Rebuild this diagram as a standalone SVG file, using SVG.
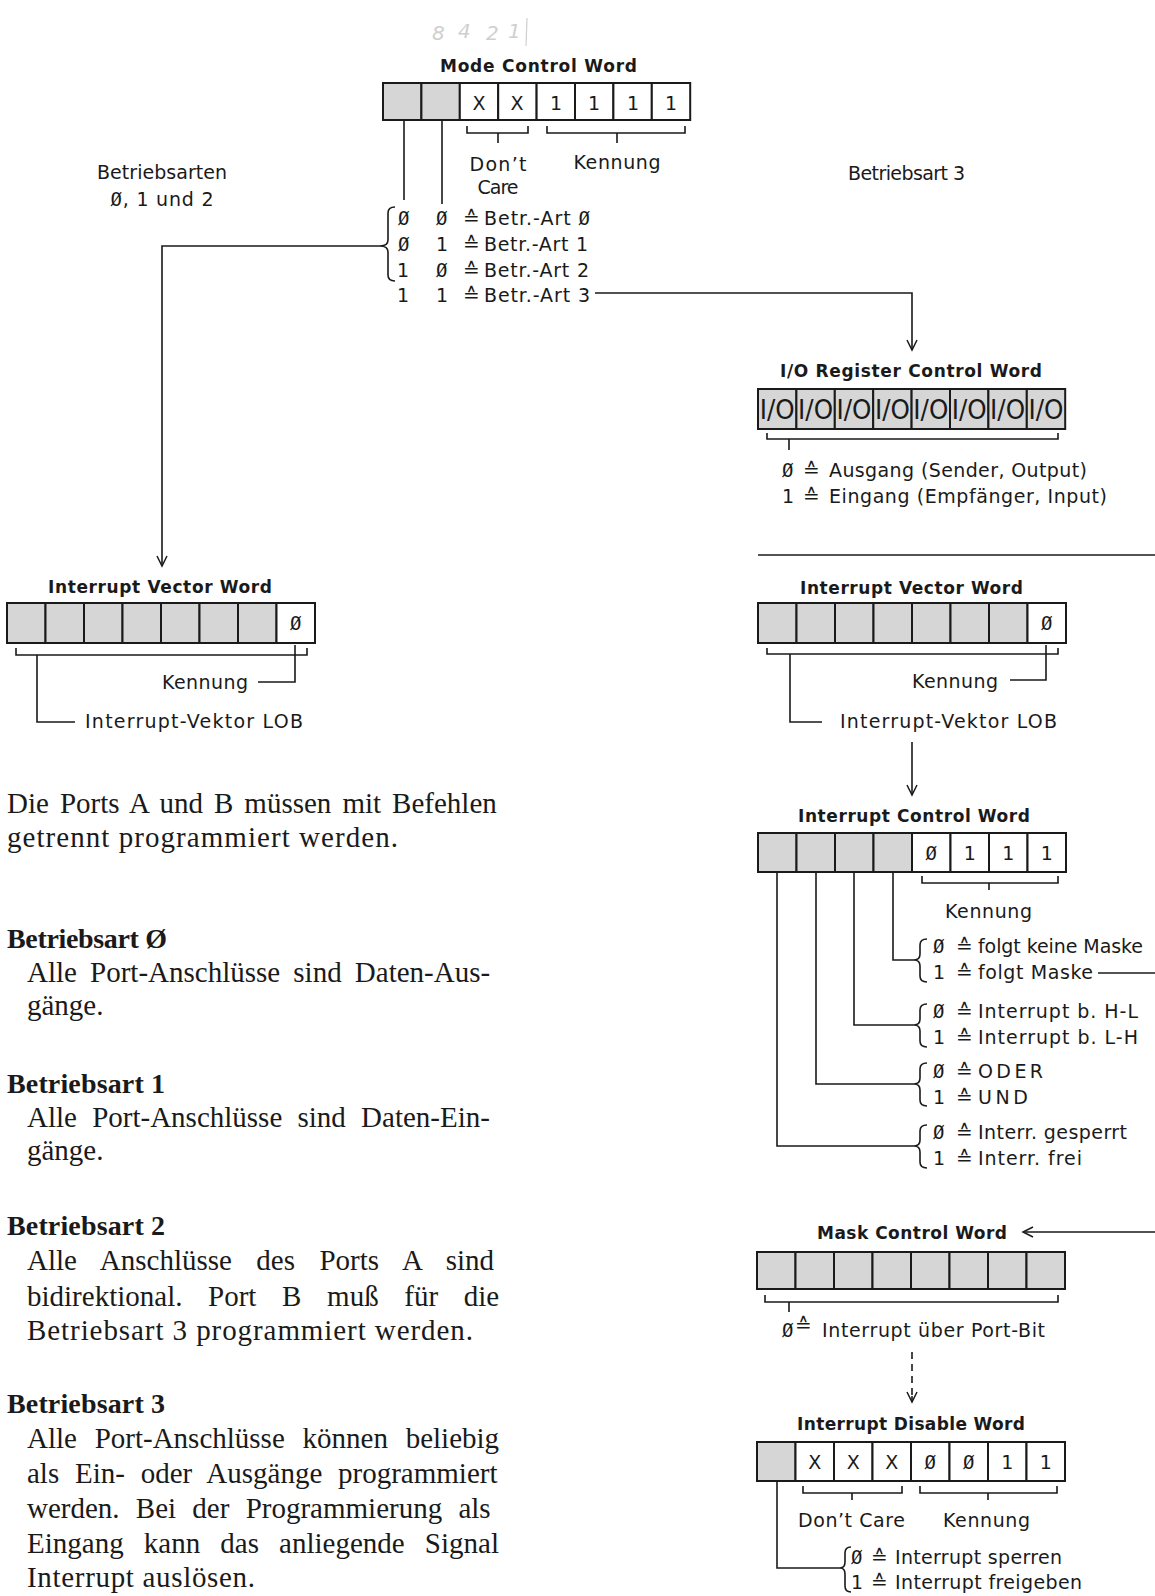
<svg xmlns="http://www.w3.org/2000/svg" width="1155" height="1596" viewBox="0 0 1155 1596">
<style>
.ln{stroke:#1a1a1a;stroke-width:1.6;fill:none}
.dash{stroke-dasharray:7 5}
.bx{stroke:#1a1a1a;stroke-width:2}
.g{fill:#d6d6d6}
.w{fill:#fff}
.t{font-family:"DejaVu Sans",sans-serif;font-size:19px;fill:#1a1a1a}
.tt{font-family:"DejaVu Sans",sans-serif;font-size:17px;font-weight:bold;fill:#1a1a1a}
.eq{font-family:"DejaVu Sans",sans-serif;font-size:20px;fill:#1a1a1a}
.z{font-family:"DejaVu Sans Mono",monospace}
.c{text-anchor:middle}
.io{font-family:"DejaVu Sans",sans-serif;font-size:26px;fill:#1a1a1a;text-anchor:middle}
.s{font-family:"Liberation Serif",serif;font-size:29px;fill:#1a1a1a}
.sb{font-family:"Liberation Serif",serif;font-size:28px;font-weight:bold;fill:#1a1a1a}
.hw{font-family:"DejaVu Sans",sans-serif;font-size:20px;font-style:italic;fill:#cfcfcf}
</style>
<defs>
<marker id="arr" viewBox="-12 -7 14 14" refX="0" refY="0" markerWidth="14" markerHeight="14" markerUnits="userSpaceOnUse" orient="auto">
<path d="M-10,-5 L0,0 L-10,5" fill="none" stroke="#1a1a1a" stroke-width="1.5"/>
</marker>
</defs>
<rect x="0" y="0" width="1155" height="1596" fill="#fff"/>

<g id="handwriting">
<text class="hw" x="432" y="40">8</text>
<text class="hw" x="458" y="38">4</text>
<text class="hw" x="486" y="40">2</text>
<text class="hw" x="508" y="38">1</text>
<line x1="527" y1="18" x2="526" y2="46" stroke="#cfcfcf" stroke-width="1.2"/>
</g>

<g id="connectors">
<path class="ln" d="M404,120 V200"/>
<path class="ln" d="M442,120 V204"/>
<path class="ln" d="M395,207 Q388,207 388,213 V240 Q388,246 380,246 Q388,246 388,252 V275 Q388,281 395,281"/>
<path class="ln" d="M380,246 H162 V566" marker-end="url(#arr)"/>
<path class="ln" d="M595,293 H912 V350" marker-end="url(#arr)"/>
<path class="ln" d="M758,555 H1155"/>
<path class="ln" d="M912,742 V795" marker-end="url(#arr)"/>
<path class="ln" d="M893,872 V960 H914"/>
<path class="ln" d="M854,872 V1025 H914"/>
<path class="ln" d="M816,872 V1084 H914"/>
<path class="ln" d="M777,872 V1146 H914"/>
<path class="ln" d="M1098,973 H1155"/>
<path class="ln" d="M1155,1232 H1023" marker-end="url(#arr)"/>
<path class="ln dash" d="M912,1352 V1402"/>
<path class="ln" d="M912,1396 V1402" marker-end="url(#arr)"/>
<path class="ln" d="M777,1481 V1568 H840"/>
</g>

<g id="mode-control-word">
<text class="tt" x="440" y="72" textLength="197">Mode Control Word</text>
<rect class="bx g" x="383" y="83" width="38.4" height="37"/>
<rect class="bx g" x="421.4" y="83" width="38.4" height="37"/>
<rect class="bx w" x="459.8" y="83" width="38.4" height="37"/>
<rect class="bx w" x="498.2" y="83" width="38.4" height="37"/>
<rect class="bx w" x="536.6" y="83" width="38.4" height="37"/>
<rect class="bx w" x="575" y="83" width="38.4" height="37"/>
<rect class="bx w" x="613.4" y="83" width="38.4" height="37"/>
<rect class="bx w" x="651.8" y="83" width="38.4" height="37"/>
<text class="t c" x="479" y="110">X</text>
<text class="t c" x="517" y="110">X</text>
<text class="t c" x="556" y="110">1</text>
<text class="t c" x="594" y="110">1</text>
<text class="t c" x="633" y="110">1</text>
<text class="t c" x="671" y="110">1</text>
<path class="ln" d="M467,126 V133 H528 V126 M498,133 V143"/>
<path class="ln" d="M547,126 V133 H685 V126 M617,133 V143"/>
<text class="t c" x="498" y="171" textLength="57">Don’t</text>
<text class="t c" x="498" y="194" textLength="41">Care</text>
<text class="t c" x="617" y="169" textLength="87">Kennung</text>
</g>

<g id="mode-list">
<text class="t z" x="398" y="225">Ø</text>
<text class="t z" x="436" y="225">Ø</text>
<text class="eq" x="463" y="225">≙</text>
<text class="t" x="484" y="225" textLength="106">Betr.-Art <tspan class="z">Ø</tspan></text>
<text class="t z" x="398" y="251">Ø</text>
<text class="t" x="436" y="251">1</text>
<text class="eq" x="463" y="251">≙</text>
<text class="t" x="484" y="251" textLength="104">Betr.-Art 1</text>
<text class="t" x="397" y="277">1</text>
<text class="t z" x="436" y="277">Ø</text>
<text class="eq" x="463" y="277">≙</text>
<text class="t" x="484" y="277" textLength="105">Betr.-Art 2</text>
<text class="t" x="397" y="302">1</text>
<text class="t" x="436" y="302">1</text>
<text class="eq" x="463" y="302">≙</text>
<text class="t" x="484" y="302" textLength="106">Betr.-Art 3</text>
</g>

<g id="label-betriebsarten-012">
<text class="t c" x="162" y="179" textLength="130">Betriebsarten</text>
<text class="t c" x="162" y="206" textLength="103"><tspan class="z">Ø</tspan>, 1 und 2</text>
</g>

<g id="label-betriebsart-3">
<text class="t" x="848" y="180" textLength="117">Betriebsart 3</text>
</g>

<g id="io-register-control-word">
<text class="tt" x="780" y="377" textLength="262">I/O Register Control Word</text>
<rect class="bx g" x="758" y="389" width="38.4" height="40"/>
<rect class="bx g" x="796.4" y="389" width="38.4" height="40"/>
<rect class="bx g" x="834.8" y="389" width="38.4" height="40"/>
<rect class="bx g" x="873.2" y="389" width="38.4" height="40"/>
<rect class="bx g" x="911.6" y="389" width="38.4" height="40"/>
<rect class="bx g" x="950" y="389" width="38.4" height="40"/>
<rect class="bx g" x="988.4" y="389" width="38.4" height="40"/>
<rect class="bx g" x="1026.8" y="389" width="38.4" height="40"/>
<text class="io" x="777.2" y="419" textLength="35" lengthAdjust="spacingAndGlyphs">I/O</text>
<text class="io" x="815.6" y="419" textLength="35" lengthAdjust="spacingAndGlyphs">I/O</text>
<text class="io" x="854" y="419" textLength="35" lengthAdjust="spacingAndGlyphs">I/O</text>
<text class="io" x="892.4" y="419" textLength="35" lengthAdjust="spacingAndGlyphs">I/O</text>
<text class="io" x="930.8" y="419" textLength="35" lengthAdjust="spacingAndGlyphs">I/O</text>
<text class="io" x="969.2" y="419" textLength="35" lengthAdjust="spacingAndGlyphs">I/O</text>
<text class="io" x="1007.6" y="419" textLength="35" lengthAdjust="spacingAndGlyphs">I/O</text>
<text class="io" x="1046" y="419" textLength="35" lengthAdjust="spacingAndGlyphs">I/O</text>
<path class="ln" d="M767,433 V439 H1058 V433 M789,439 V450"/>
<text class="t z" x="782" y="477">Ø</text>
<text class="eq" x="803" y="477">≙</text>
<text class="t" x="829" y="477" textLength="258">Ausgang (Sender, Output)</text>
<text class="t" x="782" y="503">1</text>
<text class="eq" x="803" y="503">≙</text>
<text class="t" x="829" y="503" textLength="278">Eingang (Empfänger, Input)</text>
</g>

<g id="interrupt-vector-word-left">
<text class="tt" x="48" y="593" textLength="224">Interrupt Vector Word</text>
<rect class="bx g" x="7" y="603" width="38.5" height="40"/>
<rect class="bx g" x="45.5" y="603" width="38.5" height="40"/>
<rect class="bx g" x="84" y="603" width="38.5" height="40"/>
<rect class="bx g" x="122.5" y="603" width="38.5" height="40"/>
<rect class="bx g" x="161" y="603" width="38.5" height="40"/>
<rect class="bx g" x="199.5" y="603" width="38.5" height="40"/>
<rect class="bx g" x="238" y="603" width="38.5" height="40"/>
<rect class="bx w" x="276.5" y="603" width="38.5" height="40"/>
<text class="t z c" x="295.75" y="630">Ø</text>
<path class="ln" d="M16,648 V655 H307 V648"/>
<path class="ln" d="M295,645 V682 H258"/>
<path class="ln" d="M37,655 V722 H75"/>
<text class="t" x="162" y="689" textLength="86">Kennung</text>
<text class="t" x="85" y="728" textLength="218">Interrupt-Vektor LOB</text>
</g>

<g id="interrupt-vector-word-right">
<text class="tt" x="800" y="594" textLength="223">Interrupt Vector Word</text>
<rect class="bx g" x="758" y="603" width="38.5" height="40"/>
<rect class="bx g" x="796.5" y="603" width="38.5" height="40"/>
<rect class="bx g" x="835" y="603" width="38.5" height="40"/>
<rect class="bx g" x="873.5" y="603" width="38.5" height="40"/>
<rect class="bx g" x="912" y="603" width="38.5" height="40"/>
<rect class="bx g" x="950.5" y="603" width="38.5" height="40"/>
<rect class="bx g" x="989" y="603" width="38.5" height="40"/>
<rect class="bx w" x="1027.5" y="603" width="38.5" height="40"/>
<text class="t z c" x="1046.75" y="630">Ø</text>
<path class="ln" d="M767,648 V654 H1058 V648"/>
<path class="ln" d="M1046,645 V680 H1010"/>
<path class="ln" d="M790,654 V722 H822"/>
<text class="t" x="912" y="688" textLength="86">Kennung</text>
<text class="t" x="840" y="728" textLength="217">Interrupt-Vektor LOB</text>
</g>

<g id="interrupt-control-word">
<text class="tt" x="798" y="822" textLength="232">Interrupt Control Word</text>
<rect class="bx g" x="758" y="833" width="38.5" height="39"/>
<rect class="bx g" x="796.5" y="833" width="38.5" height="39"/>
<rect class="bx g" x="835" y="833" width="38.5" height="39"/>
<rect class="bx g" x="873.5" y="833" width="38.5" height="39"/>
<rect class="bx w" x="912" y="833" width="38.5" height="39"/>
<rect class="bx w" x="950.5" y="833" width="38.5" height="39"/>
<rect class="bx w" x="989" y="833" width="38.5" height="39"/>
<rect class="bx w" x="1027.5" y="833" width="38.5" height="39"/>
<text class="t z c" x="931.25" y="860">Ø</text>
<text class="t c" x="969.75" y="860">1</text>
<text class="t c" x="1008.25" y="860">1</text>
<text class="t c" x="1046.75" y="860">1</text>
<path class="ln" d="M922,876 V883 H1058 V876 M989,883 V890"/>
<text class="t" x="945" y="918" textLength="87">Kennung</text>
<path class="ln" d="M927,939 Q920,939 920,945 V954 Q920,960 914,960 Q920,960 920,966 V976 Q920,982 927,982"/>
<path class="ln" d="M927,1004 Q920,1004 920,1010 V1019 Q920,1025 914,1025 Q920,1025 920,1031 V1041 Q920,1047 927,1047"/>
<path class="ln" d="M927,1063 Q920,1063 920,1069 V1078 Q920,1084 914,1084 Q920,1084 920,1090 V1100 Q920,1106 927,1106"/>
<path class="ln" d="M927,1125 Q920,1125 920,1131 V1140 Q920,1146 914,1146 Q920,1146 920,1152 V1162 Q920,1168 927,1168"/>
<text class="t z" x="933" y="953">Ø</text><text class="eq" x="956" y="953">≙</text>
<text class="t" x="978" y="953" textLength="165">folgt keine Maske</text>
<text class="t" x="933" y="979">1</text><text class="eq" x="956" y="979">≙</text>
<text class="t" x="978" y="979" textLength="115">folgt Maske</text>
<text class="t z" x="933" y="1018">Ø</text><text class="eq" x="956" y="1018">≙</text>
<text class="t" x="978" y="1018" textLength="160">Interrupt b. H-L</text>
<text class="t" x="933" y="1044">1</text><text class="eq" x="956" y="1044">≙</text>
<text class="t" x="978" y="1044" textLength="160">Interrupt b. L-H</text>
<text class="t z" x="933" y="1078">Ø</text><text class="eq" x="956" y="1078">≙</text>
<text class="t" x="978" y="1078" textLength="65">ODER</text>
<text class="t" x="933" y="1104">1</text><text class="eq" x="956" y="1104">≙</text>
<text class="t" x="978" y="1104" textLength="50">UND</text>
<text class="t z" x="933" y="1139">Ø</text><text class="eq" x="956" y="1139">≙</text>
<text class="t" x="978" y="1139" textLength="149">Interr. gesperrt</text>
<text class="t" x="933" y="1165">1</text><text class="eq" x="956" y="1165">≙</text>
<text class="t" x="978" y="1165" textLength="104">Interr. frei</text>
</g>

<g id="mask-control-word">
<text class="tt" x="817" y="1239" textLength="190">Mask Control Word</text>
<rect class="bx g" x="757" y="1252" width="38.5" height="37"/>
<rect class="bx g" x="795.5" y="1252" width="38.5" height="37"/>
<rect class="bx g" x="834" y="1252" width="38.5" height="37"/>
<rect class="bx g" x="872.5" y="1252" width="38.5" height="37"/>
<rect class="bx g" x="911" y="1252" width="38.5" height="37"/>
<rect class="bx g" x="949.5" y="1252" width="38.5" height="37"/>
<rect class="bx g" x="988" y="1252" width="38.5" height="37"/>
<rect class="bx g" x="1026.5" y="1252" width="38.5" height="37"/>
<path class="ln" d="M765,1295 V1302 H1058 V1295 M789,1302 V1312"/>
<text class="t z" x="782" y="1337">Ø</text>
<text class="eq" x="795" y="1332" font-size="17">≙</text>
<text class="t" x="822" y="1337" textLength="223">Interrupt über Port-Bit</text>
</g>

<g id="interrupt-disable-word">
<text class="tt" x="797" y="1430" textLength="228">Interrupt Disable Word</text>
<rect class="bx g" x="757" y="1442" width="38.5" height="39"/>
<rect class="bx w" x="795.5" y="1442" width="38.5" height="39"/>
<rect class="bx w" x="834" y="1442" width="38.5" height="39"/>
<rect class="bx w" x="872.5" y="1442" width="38.5" height="39"/>
<rect class="bx w" x="911" y="1442" width="38.5" height="39"/>
<rect class="bx w" x="949.5" y="1442" width="38.5" height="39"/>
<rect class="bx w" x="988" y="1442" width="38.5" height="39"/>
<rect class="bx w" x="1026.5" y="1442" width="38.5" height="39"/>
<text class="t c" x="814.75" y="1469">X</text>
<text class="t c" x="853.25" y="1469">X</text>
<text class="t c" x="891.75" y="1469">X</text>
<text class="t z c" x="930.25" y="1469">Ø</text>
<text class="t z c" x="968.75" y="1469">Ø</text>
<text class="t c" x="1007.25" y="1469">1</text>
<text class="t c" x="1045.75" y="1469">1</text>
<path class="ln" d="M803,1486 V1493 H902 V1486 M852,1493 V1500"/>
<path class="ln" d="M920,1486 V1493 H1057 V1486 M988,1493 V1500"/>
<text class="t" x="798" y="1527" textLength="107">Don’t Care</text>
<text class="t" x="943" y="1527" textLength="87">Kennung</text>
<path class="ln" d="M851,1547 Q845,1547 845,1553 V1562 Q845,1568 840,1568 Q845,1568 845,1574 V1586 Q845,1592 851,1592"/>
<text class="t z" x="851" y="1564">Ø</text><text class="eq" x="871" y="1564">≙</text>
<text class="t" x="895" y="1564" textLength="167">Interrupt sperren</text>
<text class="t" x="851" y="1589">1</text><text class="eq" x="871" y="1589">≙</text>
<text class="t" x="895" y="1589" textLength="187">Interrupt freigeben</text>
</g>

<g id="text-block">
<text class="s" x="7" y="813" word-spacing="3.8">Die Ports A und B müssen mit Befehlen</text>
<text class="s" x="7" y="847" textLength="391">getrennt programmiert werden.</text>
<text class="sb" x="7" y="948" textLength="160">Betriebsart Ø</text>
<text class="s" x="27" y="982" word-spacing="5.9">Alle Port-Anschlüsse sind Daten-Aus-</text>
<text class="s" x="27" y="1015">gänge.</text>
<text class="sb" x="7" y="1093" textLength="158">Betriebsart 1</text>
<text class="s" x="27" y="1127" word-spacing="8">Alle Port-Anschlüsse sind Daten-Ein-</text>
<text class="s" x="27" y="1160">gänge.</text>
<text class="sb" x="7" y="1235" textLength="158">Betriebsart 2</text>
<text class="s" x="27" y="1270" word-spacing="17.2">Alle Anschlüsse des Ports A sind</text>
<text class="s" x="27" y="1306" word-spacing="18.4">bidirektional. Port B muß für die</text>
<text class="s" x="27" y="1340" textLength="446">Betriebsart 3 programmiert werden.</text>
<text class="sb" x="7" y="1413" textLength="158">Betriebsart 3</text>
<text class="s" x="27" y="1448" word-spacing="10.5">Alle Port-Anschlüsse können beliebig</text>
<text class="s" x="27" y="1483" word-spacing="8.5">als Ein- oder Ausgänge programmiert</text>
<text class="s" x="27" y="1518" word-spacing="9">werden. Bei der Programmierung als</text>
<text class="s" x="27" y="1553" word-spacing="12.9">Eingang kann das anliegende Signal</text>
<text class="s" x="27" y="1587" textLength="228">Interrupt auslösen.</text>
</g>
</svg>
